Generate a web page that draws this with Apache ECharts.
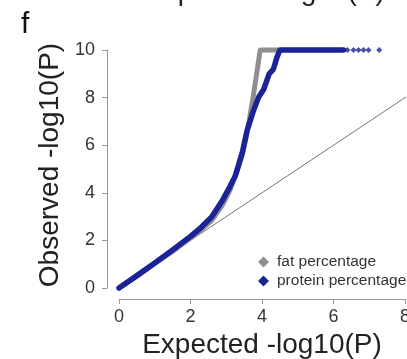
<!DOCTYPE html>
<html><head><meta charset="utf-8">
<script src="https://cdn.jsdelivr.net/npm/echarts@6/dist/echarts.min.js"></script>
<style>html,body{margin:0;padding:0;background:#fff}#c{width:407px;height:359px}</style>
</head><body><div id="c"></div>
<script>
const xTicks = [0, 2, 4, 6, 8];
const yTicks = [0, 2, 4, 6, 8, 10];
const fatX = [0, 0.5, 1, 1.5, 2, 2.3, 2.6, 2.9, 3.1, 3.3, 3.45, 3.55, 3.65, 3.75, 3.85, 3.92, 3.95, 4.2, 4.45];
const fatY = [0, 0.5, 1.03, 1.55, 2.1, 2.45, 2.85, 3.5, 4.1, 4.9, 5.6, 6.3, 7.1, 8.0, 9.0, 9.7, 10, 10, 10];
const protX = [0, 0.5, 1, 1.5, 2, 2.3, 2.6, 2.9, 3.1, 3.25, 3.45, 3.58, 3.75, 3.9, 4.05, 4.2, 4.32, 4.42, 4.5, 5.0, 5.5, 6.0, 6.28];
const protY = [0, 0.52, 1.05, 1.6, 2.17, 2.55, 3.0, 3.7, 4.25, 4.7, 5.7, 6.6, 7.4, 8.0, 8.35, 9.0, 9.2, 9.7, 10, 10, 10, 10, 10];
const tailX = [6.39, 6.56, 6.7, 6.84, 6.98, 7.28];
const tailY = [10, 10, 10, 10, 10, 10];
const diagX = [-0.3, 8.3];
const diagY = [-0.3, 8.3];

const zip = (a, b) => a.map((v, i) => [v, b[i]]);
const FONT = 'Liberation Sans, Arial, sans-serif';
const GRAY = '#8f8f8f', BLUE = '#1c2396';

const chart = echarts.init(document.getElementById('c'), null, {renderer: 'canvas'});
chart.setOption({
  animation: false,
  backgroundColor: '#fff',
  grid: {left: 119, right: 2, top: 50, bottom: 71, containLabel: false, outerBoundsMode: 'none'},
  graphic: [
    {type: 'text', left: 21, top: 10, style: {text: 'f', font: '30px ' + FONT, fill: '#111'}},
    {type: 'text', x: 265, y: 6, style: {text: 'Expected -log10(P)', font: '28px ' + FONT, fill: '#222', align: 'center', verticalAlign: 'bottom'}}
  ],
  legend: {
    orient: 'vertical', left: 253, top: 249, itemGap: 3, itemWidth: 11, itemHeight: 11,
    icon: 'diamond',
    textStyle: {fontFamily: FONT, fontSize: 15.5, color: '#333', padding: [0, 0, 0, 3]},
    data: [{name: 'fat percentage', icon: 'diamond', itemStyle: {color: GRAY}}, {name: 'protein percentage', icon: 'diamond', itemStyle: {color: BLUE}}]
  },
  xAxis: {
    type: 'value', min: 0, max: 8, interval: 2, offset: 11,
    name: 'Expected -log10(P)', nameLocation: 'middle', nameGap: 29,
    nameTextStyle: {fontFamily: FONT, fontSize: 28, color: '#222'},
    axisLine: {show: true, onZero: false, lineStyle: {color: '#999', width: 1}},
    axisTick: {show: true, length: 5, lineStyle: {color: '#999'}},
    axisLabel: {fontFamily: FONT, fontSize: 18, color: '#333', margin: 9, formatter: v => xTicks.includes(v) ? String(v) : ''},
    splitLine: {show: false}
  },
  yAxis: {
    type: 'value', min: 0, max: 10, interval: 2, offset: 12,
    name: 'Observed -log10(P)', nameLocation: 'middle', nameGap: 40,
    nameTextStyle: {fontFamily: FONT, fontSize: 28, color: '#222', padding: [0, 0, 0, 8]},
    axisLine: {show: true, onZero: false, lineStyle: {color: '#999', width: 1}},
    axisTick: {show: true, length: 5, lineStyle: {color: '#999'}},
    axisLabel: {fontFamily: FONT, fontSize: 18, color: '#333', margin: 12, formatter: v => yTicks.includes(v) ? String(v) : ''},
    splitLine: {show: false}
  },
  series: [
    {type: 'line', name: 'diag', data: zip(diagX, diagY), symbol: 'none', clip: false, silent: true,
     lineStyle: {color: '#777', width: 1}, z: 1},
    {type: 'line', name: 'fat percentage', data: zip(fatX, fatY), symbol: 'none', clip: false,
     lineStyle: {color: GRAY, width: 5, cap: 'round', join: 'round'}, itemStyle: {color: GRAY}, z: 2},
    {type: 'line', name: 'protein percentage', data: zip(protX, protY), symbol: 'none', clip: false,
     lineStyle: {color: BLUE, width: 5.5, cap: 'round', join: 'round'}, itemStyle: {color: BLUE}, z: 3},
    {type: 'scatter', name: 'protein tail', data: zip(tailX, tailY), symbol: 'diamond', symbolSize: 6, clip: false,
     itemStyle: {color: BLUE}, z: 3}
  ]
});
</script></body></html>
